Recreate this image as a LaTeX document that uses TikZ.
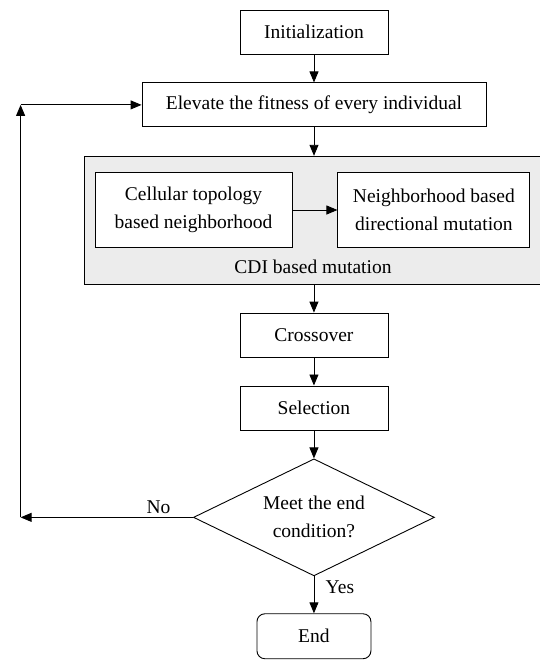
\documentclass[tikz,border=0pt]{standalone}
\usepackage{fontspec}
\setmainfont{Liberation Serif}
\usepackage{tikz}
\usetikzlibrary{arrows.meta, calc, positioning, fit, shapes.geometric, backgrounds}

\begin{document}
\begin{tikzpicture}[x=1pt, y=1pt,
            big-text/.style={font=\fontsize{19.5}{28}\selectfont},
            process-block/.style={rectangle, draw, line width=0.9pt, minimum width=148pt, minimum height=44pt, align=center, big-text},
            inner-block/.style={rectangle, draw, line width=0.9pt, fill=white, minimum height=74.6pt, align=center, big-text},
            group-block/.style={rectangle, draw, line width=0.9pt, fill=gray!15, inner sep=0pt},
            decision-block/.style={diamond, draw, line width=0.9pt, shape aspect=2, minimum width=241pt, minimum height=117pt, inner sep=1pt, align=center, big-text},
            end-block/.style={rectangle, draw, line width=0.9pt, rounded corners=8pt, minimum width=114pt, minimum height=45pt, big-text},
            arrow/.style={line width=0.9pt, -{Triangle[length=11pt, width=9pt]}}
        ]
        \useasboundingbox (0,0) rectangle (540,-662);

        % Start
        \node[process-block] (init) at (314,-32) {Initialization};
        \node[process-block, minimum width=344pt, below=28pt of init] (fitness) {Elevate the fitness of every individual};

        % CDI based mutation
        \node[inner-block, minimum width=197pt] (cellular) at (193.5,-210) {Cellular topology\\based neighborhood};
        \node[inner-block, minimum width=192pt, right=45pt of cellular] (directional) {Neighborhood based\\directional mutation};
        \node[big-text, inner sep=0pt] (cdi) at (313,-267) {CDI based mutation};
        \coordinate (groupTL) at ($(cellular.north west)+(-10,16)$);
        \coordinate (groupBR) at ($(directional.south east)+(13,-36.4)$);
        \begin{scope}[on background layer]
            \node[group-block, fit=(groupTL)(groupBR)] (mutation) {};
        \end{scope}

        % Rest of the loop
        \node[process-block, below=28pt of mutation] (crossover) {Crossover};
        \node[process-block, below=28pt of crossover] (selection) {Selection};
        \node[decision-block, below=28pt of selection] (condition) {Meet the end\\condition?};
        \node[end-block, below=37pt of condition] (end) {End};

        % Loop back
        \coordinate (loopB) at ($(condition.west)+(-172.4,0)$);
        \coordinate (loopT) at (loopB |- fitness.west);

        % Arrows
        \draw[arrow] (init) -- (fitness);
        \draw[arrow] (fitness.south) -- (fitness.south |- mutation.north);
        \draw[arrow] (cellular) -- (directional);
        \draw[arrow] (mutation.south -| crossover) -- (crossover);
        \draw[arrow] (crossover) -- (selection);
        \draw[arrow] (selection) -- (condition);
        \draw[arrow] (condition) -- node[big-text, right, pos=0.3, xshift=8pt] {Yes} (end);
        \draw[arrow] (condition.west) -- node[big-text, above, pos=0.2] {No} (loopB);
        \draw[arrow] (loopB) -- (loopT);
        \draw[arrow] (loopT) -- (fitness.west);

    \end{tikzpicture}
\end{document}
